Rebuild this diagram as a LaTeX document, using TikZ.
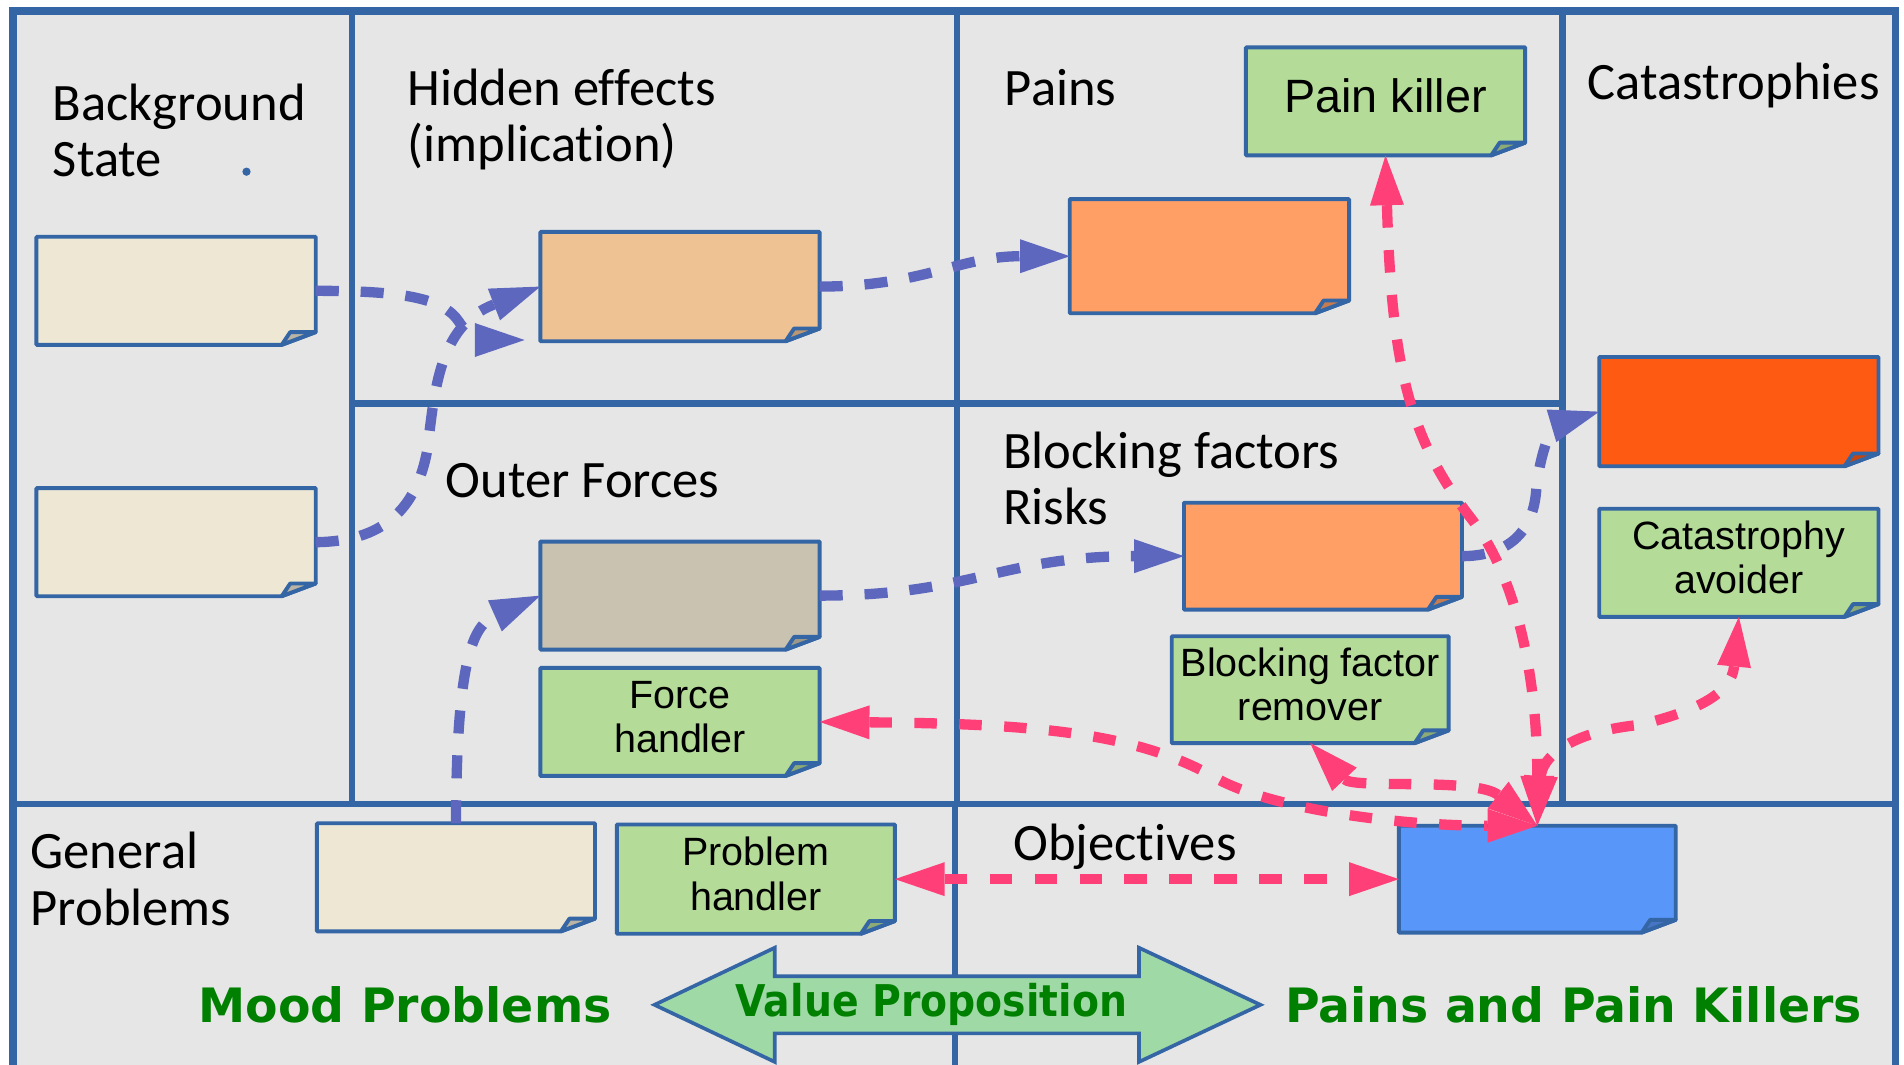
\documentclass[tikz,border=0pt]{standalone}
\usepackage{fontspec}
\setmainfont{Carlito}[Ligatures=NoCommon]
\newfontfamily\lsans{Liberation Sans}
\newfontfamily\dvs{DejaVu Sans}
\newfontfamily\dvsc{DejaVu Sans}[FakeStretch=0.9]
\usetikzlibrary{arrows.meta}
\pgfdeclarelayer{back}
\pgfdeclarelayer{notes}
\pgfsetlayers{back,notes,main}
\definecolor{framec}{RGB}{52,101,164}
\definecolor{bggray}{RGB}{230,230,230}
\definecolor{cream}{RGB}{237,231,212}
\definecolor{peach}{RGB}{238,194,146}
\definecolor{painorange}{RGB}{255,159,102}
\definecolor{catorange}{RGB}{255,90,18}
\definecolor{forcegray}{RGB}{201,194,176}
\definecolor{notegreen}{RGB}{180,219,152}
\definecolor{objblue}{RGB}{88,150,250}
\definecolor{arrowgreen}{RGB}{158,217,166}
\definecolor{textgreen}{RGB}{0,128,0}
\definecolor{blueline}{RGB}{94,103,190}
\definecolor{pinkline}{RGB}{255,64,120}
\newcommand\notedraw[2]{%
  \filldraw[noteline, fill=#2] (#1.north west) -- (#1.north east) -- ([yshift=10.5pt]#1.south east) -- ([xshift=-28pt]#1.south east) -- (#1.south west) -- cycle;
  \filldraw[noteline, fill=#2!78!black] ([xshift=-28pt]#1.south east) -- ([xshift=-21pt,yshift=10.5pt]#1.south east) -- ([yshift=10.5pt]#1.south east) -- cycle;
}
\begin{document}
\begin{tikzpicture}[x=1pt,y=-1pt,
  frameline/.style={draw=framec, line width=5.5pt},
  noteline/.style={draw=framec, line width=3.2pt, line join=round},
  note/.style={rectangle, inner sep=0pt, outer sep=0pt, minimum width=230pt, minimum height=89pt},
  notelabel/.style={font=\lsans\fontsize{32.5}{36.5}\selectfont},
  region/.style={anchor=base west, inner sep=0pt, font=\fontsize{43.3}{46.5}\selectfont},
  greentext/.style={anchor=base, inner sep=0pt, text=textgreen},
  blueconn/.style={draw=blueline, line width=8.5pt, dash pattern=on 19pt off 18pt,
    -{Triangle[length=41pt,width=28pt,line width=0pt]}},
  pinkconn/.style={draw=pinkline, line width=8.5pt, dash pattern=on 18.5pt off 18.5pt,
    {Triangle[length=41pt,width=28pt,line width=0pt]}-{Triangle[length=41pt,width=28pt,line width=0pt]}},
  bigarrow/.style={draw=framec, line width=3pt, fill=arrowgreen, line join=miter}
]
\useasboundingbox (0,0) rectangle (1568,877);

\begin{pgfonlayer}{back}
  \fill[white] (0,0) rectangle (1568,877);
  \fill[bggray] (10.4,9.2) rectangle (1561,877);
  \draw[frameline] (290,9.2) -- (290,662);
  \draw[frameline] (788,9.2) -- (788,662);
  \draw[frameline] (786.5,662) -- (786.5,877);
  \draw[frameline] (1286.5,9.2) -- (1286.5,662);
  \draw[frameline] (290,332.5) -- (1286.5,332.5);
  \draw[frameline] (10.4,662) -- (1561,662);
  \draw[frameline, line width=6.5pt] (10.4,877) -- (10.4,9.2) -- (1561,9.2) -- (1561,877);
  \fill[framec] (203,141.4) circle (3.4pt);
\end{pgfonlayer}

% region labels
\node[region] (lbg) at (43.4,99) {\begin{tabular}[t]{@{}l@{}}Background\\State\end{tabular}};
\node[region] (lhid) at (335.4,86.5) {\begin{tabular}[t]{@{}l@{}}Hidden effects\\(implication)\end{tabular}};
\node[region] (lpains) at (827.4,86.5) {Pains};
\node[region] (lcat) at (1307.5,82) {Catastrophies};
\node[region] (louter) at (367,409.5) {Outer Forces};
\node[region] (lblock) at (826,385.5) {\begin{tabular}[t]{@{}l@{}}Blocking factors\\Risks\end{tabular}};
\node[region] (lgen) at (25,715.3) {\begin{tabular}[t]{@{}l@{}}General\\Problems\end{tabular}};
\node[region] (lobj) at (834.5,708.4) {Objectives};

% sticky notes
\node[note] (bg1) at (145,239.5) {};
\node[note] (bg2) at (145,446.5) {};
\node[note, minimum height=90pt] (hidden) at (560,236) {};
\node[note, minimum height=94pt] (pains) at (996,211) {};
\node[note, font=\lsans\fontsize{38.5}{44}\selectfont] (painkiller) at (1141,83.5) {\begin{tabular}{@{}c@{}}Pain killer\end{tabular}};
\node[note, minimum height=90pt] (cat) at (1432,339) {};
\node[note, notelabel] (avoider) at (1432,463.5) {\begin{tabular}{@{}c@{}}Catastrophy\\avoider\end{tabular}};
\node[note, minimum width=229pt, minimum height=88pt] (blocking) at (1089.5,458) {};
\node[note, notelabel, minimum width=228pt, minimum height=88pt] (remover) at (1079,568) {\begin{tabular}{@{}c@{}}Blocking factor\\remover\end{tabular}};
\node[note] (outer) at (560,490.5) {};
\node[note, notelabel] (forceh) at (560,594.5) {\begin{tabular}{@{}c@{}}Force\\handler\end{tabular}};
\node[note, minimum width=229pt] (general) at (375.5,722.5) {};
\node[note, notelabel, minimum width=229pt, minimum height=90pt] (probh) at (622.5,724) {\begin{tabular}{@{}c@{}}Problem\\handler\end{tabular}};
\node[note, minimum width=228pt, minimum height=88pt] (obj) at (1266,724) {};

\begin{pgfonlayer}{notes}
  \notedraw{bg1}{cream}
  \notedraw{bg2}{cream}
  \notedraw{hidden}{peach}
  \notedraw{pains}{painorange}
  \notedraw{painkiller}{notegreen}
  \notedraw{cat}{catorange}
  \notedraw{avoider}{notegreen}
  \notedraw{blocking}{painorange}
  \notedraw{remover}{notegreen}
  \notedraw{outer}{forcegray}
  \notedraw{forceh}{notegreen}
  \notedraw{general}{cream}
  \notedraw{probh}{notegreen}
  \notedraw{obj}{objblue}
  \draw[bigarrow] (539,827.5) -- (638,780.5) -- (638,804) -- (938,804) -- (938,780.5) -- (1038,827.5)
    -- (938,874.5) -- (938,851) -- (638,851) -- (638,874.5) -- cycle;
\end{pgfonlayer}

% bottom texts
\node[greentext, font=\dvs\bfseries\fontsize{39}{44}\selectfont] (mood) at (333.6,842) {Mood Problems};
\node[greentext, font=\dvs\bfseries\fontsize{39}{44}\selectfont] (pk) at (1295.8,842) {Pains and Pain Killers};
\node[greentext, font=\dvsc\bfseries\fontsize{36}{40}\selectfont] (vp) at (767,837.5) {Value Proposition};

% blue connectors
\coordinate (h2) at (432,280);
\draw[blueconn] (bg1.east) .. controls (330,239.5) and (365,245) .. (378,265) .. controls (385,276) and (395,280) .. (h2);
\draw[blueconn] (bg2.east) .. controls (315,446) and (343,420) .. (352,370) .. controls (358,320) and (362,268) .. (hidden.west);
\draw[blueconn] (hidden.east) .. controls (760,236) and (790,211) .. (pains.west);
\draw[blueconn] (outer.east) .. controls (800,490.5) and (825,458) .. (blocking.west);
\draw[blueconn] (general.north) .. controls (376,540) and (390,515) .. (outer.west);
\draw[blueconn] (blocking.east) .. controls (1240,458) and (1262,440) .. (1265,405) .. controls (1268,370) and (1280,350) .. (cat.west);

% pink connectors
\draw[pinkconn] (painkiller.south) .. controls (1146,300) and (1160,360) .. (1210,425) .. controls (1250,475) and (1266,560) .. (obj.north);
\draw[pinkconn] (obj.north) .. controls (1270,625) and (1290,603) .. (1350,597) .. controls (1400,585) and (1426,570) .. (avoider.south);
\draw[pinkconn] (forceh.east) .. controls (850,596) and (935,603) .. (1000,640) .. controls (1045,666) and (1150,680) .. (obj.north);
\draw[pinkconn] (remover.south) .. controls (1115,650) and (1215,640) .. (obj.north);
\draw[pinkconn] (probh.east) -- (obj.west);
\end{tikzpicture}
\end{document}
